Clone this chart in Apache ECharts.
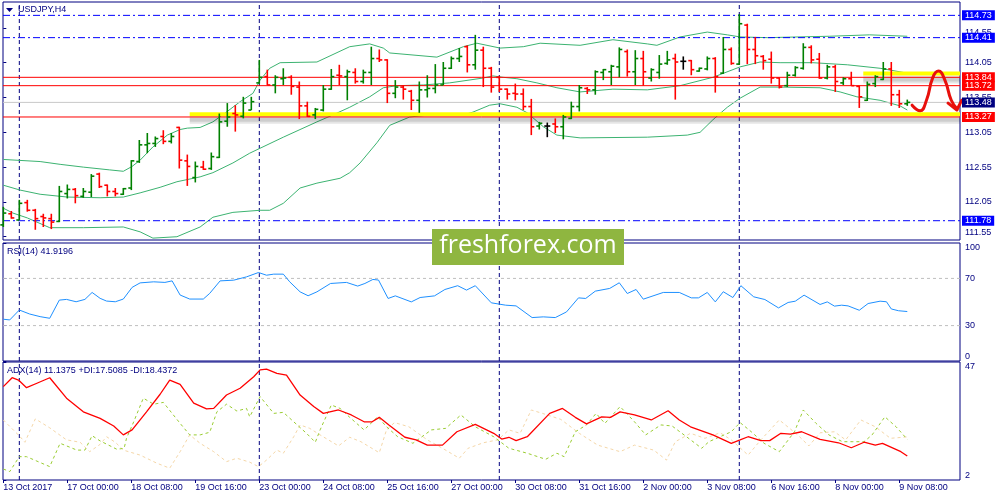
<!DOCTYPE html>
<html><head><meta charset="utf-8">
<script src="https://cdn.jsdelivr.net/npm/echarts@6/dist/echarts.min.js"></script>
<style>html,body{margin:0;padding:0;background:#fff}#c{width:1000px;height:500px}</style>
</head><body><div id="c"></div>
<script>
// ---- OHLC (H4 bars, index 0 = 13 Oct 2017 16:00) ----
const openP  = [111.72,111.88,111.79,112.04,111.93,111.84,111.81,111.77,112.17,112.23,112.13,112.19,112.45,112.29,112.20,112.16,112.25,112.63,112.87,112.89,112.99,112.92,113.12,112.64,112.40,112.55,112.53,112.69,113.21,113.32,113.28,113.37,113.76,113.85,113.73,113.82,113.84,113.70,113.43,113.30,113.37,113.67,113.87,113.85,113.91,113.78,113.91,114.11,114.09,113.61,113.70,113.64,113.51,113.66,113.68,113.73,113.97,114.11,114.28,114.02,114.23,113.97,113.84,113.67,113.61,113.60,113.42,113.14,113.14,113.17,113.13,113.25,113.42,113.68,113.66,113.91,113.92,113.99,114.21,113.92,114.11,113.83,113.91,114.04,114.11,114.07,114.08,113.93,113.96,114.11,113.90,114.24,114.03,114.59,114.24,114.14,114.10,113.83,113.72,113.87,113.97,114.27,114.10,113.83,113.99,113.76,113.82,113.71,113.51,113.75,113.81,113.96,113.59,113.46];
const highP  = [111.98,111.92,112.08,112.08,111.95,111.88,111.88,112.28,112.30,112.25,112.25,112.45,112.47,112.30,112.25,112.25,112.65,112.94,113.04,112.99,113.08,113.04,113.13,112.73,112.63,112.64,112.76,113.32,113.47,113.44,113.56,113.56,114.09,113.95,113.87,113.97,113.87,113.78,113.49,113.40,113.73,113.96,114.02,113.95,113.97,113.95,114.28,114.24,114.10,113.80,113.73,113.66,113.78,113.87,114.03,114.06,114.14,114.26,114.30,114.45,114.28,113.99,113.86,113.68,113.75,113.68,113.53,113.20,113.19,113.25,113.30,113.49,113.73,113.70,113.94,113.96,114.02,114.27,114.24,114.23,114.22,113.97,114.16,114.22,114.18,114.14,114.09,113.98,114.14,114.13,114.42,114.27,114.75,114.61,114.42,114.16,114.21,113.84,113.92,114.00,114.33,114.30,114.19,114.02,114.02,113.84,113.92,113.72,113.78,113.87,114.06,114.06,113.66,113.52];
const lowP   = [111.69,111.81,111.79,111.91,111.65,111.69,111.66,111.76,112.10,112.03,112.11,112.12,112.25,112.13,112.13,112.15,112.22,112.61,112.75,112.84,112.88,112.89,112.53,112.28,112.33,112.51,112.51,112.68,113.13,113.06,113.25,113.37,113.75,113.73,113.61,113.73,113.59,113.24,113.27,113.24,113.35,113.66,113.73,113.51,113.75,113.75,113.73,114.06,113.47,113.54,113.52,113.37,113.33,113.55,113.61,113.73,113.96,114.06,113.91,113.95,113.70,113.62,113.63,113.52,113.51,113.37,113.01,113.09,112.98,113.04,112.95,113.24,113.35,113.60,113.59,113.80,113.73,113.84,113.85,113.73,113.72,113.78,113.82,114.02,113.52,113.95,113.87,113.92,113.94,113.62,113.89,114.02,114.02,114.03,114.03,113.95,113.75,113.68,113.70,113.85,113.95,114.04,113.82,113.81,113.63,113.73,113.72,113.40,113.50,113.70,113.80,113.43,113.40,113.43];
const closeP = [111.89,111.82,112.03,111.93,111.81,111.82,111.76,112.20,112.23,112.14,112.20,112.42,112.27,112.20,112.17,112.24,112.64,112.87,112.89,112.96,112.92,112.99,112.65,112.56,112.56,112.52,112.70,113.20,113.27,113.30,113.47,113.49,113.84,113.73,113.84,113.83,113.71,113.43,113.28,113.38,113.67,113.85,113.86,113.92,113.78,113.91,114.11,114.09,113.61,113.70,113.67,113.51,113.66,113.68,113.73,113.97,114.11,114.14,114.02,114.23,113.97,113.70,113.67,113.60,113.60,113.42,113.13,113.18,113.14,113.13,113.27,113.42,113.69,113.66,113.92,113.95,114.00,114.24,113.92,114.11,113.92,113.95,114.03,114.09,114.06,114.07,113.95,113.97,114.11,113.85,114.24,114.04,114.61,114.24,114.15,114.08,113.83,113.70,113.87,113.98,114.27,114.09,113.83,113.99,113.78,113.82,113.72,113.56,113.74,113.85,113.96,113.59,113.46,113.48];

// ---- Bollinger bands [barIndex, price] ----
const bbUpper = [[0,112.66],[4.6,112.63],[7.1,112.59],[10,112.55],[13.3,112.51],[15,112.49],[16.1,112.56],[17.1,112.65],[18.7,112.84],[20.5,113.01],[22.1,113.09],[23,113.11],[24.6,113.12],[26.2,113.2],[28,113.35],[29.6,113.49],[31.2,113.61],[32.1,113.8],[33.3,113.97],[34.6,114.05],[39.2,114.06],[43.3,114.28],[45.8,114.32],[47.5,114.26],[48.3,114.19],[54.2,114.13],[57.5,114.28],[59.2,114.33],[62.1,114.26],[65,114.28],[67.1,114.33],[72.1,114.3],[76.2,114.38],[80.5,114.32],[81.7,114.3],[84.6,114.42],[88,114.49],[90.5,114.45],[92.1,114.42],[95.5,114.41],[103.3,114.43],[108.3,114.45],[113,114.43]];
const bbMiddle = [[0,112.29],[2.1,112.22],[4.6,112.16],[8,112.12],[12.1,112.11],[15,112.12],[17.1,112.18],[19.6,112.26],[21.7,112.34],[24.6,112.41],[26.2,112.47],[28.7,112.61],[30.8,112.75],[35,112.98],[39.2,113.2],[41.2,113.3],[43.3,113.41],[45.8,113.56],[47.5,113.69],[49.2,113.72],[52.5,113.73],[55.8,113.76],[60,113.83],[61.2,113.86],[62.5,113.84],[64.2,113.82],[66.7,113.76],[69.2,113.69],[72.1,113.63],[76.2,113.67],[80.5,113.66],[84.6,113.72],[88.7,113.84],[92.1,113.99],[94.6,114.06],[97.1,114.05],[101.2,114.05],[105.5,114.02],[109.6,113.97],[113,113.9]];
const bbLower = [[0,111.96],[1.2,111.89],[3,111.82],[5.8,111.68],[10,111.68],[15,111.69],[17.1,111.62],[18.7,111.53],[21.7,111.55],[24.6,111.69],[26.2,111.83],[28.7,111.9],[32.1,111.93],[33.3,111.93],[35,112.03],[37.1,112.25],[39.2,112.32],[42.1,112.39],[43.3,112.47],[44.6,112.61],[46.7,112.9],[48.3,113.15],[50.8,113.27],[54.2,113.31],[57.5,113.3],[58.7,113.34],[60.8,113.44],[62.1,113.46],[64.2,113.41],[65.5,113.33],[67.5,113.13],[69.2,113.01],[72.1,112.97],[80.5,112.98],[85.5,113.01],[87.1,113.05],[88.7,113.23],[90.5,113.41],[92.1,113.54],[94.6,113.7],[97.1,113.7],[102.1,113.69],[104.6,113.63],[106.7,113.56],[109.6,113.51],[112.1,113.43],[113,113.37]];

// ---- RSI(14) ----
const rsi = [[0,35.4],[0.8,34.8],[2,43.2],[3.3,39.8],[4.6,37.6],[5.8,36.2],[7,51.6],[7.9,52.2],[9.1,50.2],[10.2,52.2],[11.1,58.1],[12.1,53.1],[12.9,50.8],[14,50.2],[15,52.5],[16.1,62.4],[17.1,66.2],[18.8,67.1],[20.2,66.6],[21.1,67.9],[22.1,55.9],[23.3,52.5],[25,52.5],[25.8,57.3],[27.1,67.9],[28.8,68.5],[30.4,71.3],[31.9,75],[32.9,72.7],[33.8,73.6],[35,73.6],[35.8,67.1],[37.1,58.6],[38.1,55.3],[39.2,58.6],[40.9,65.7],[42.9,66.6],[44.3,63.5],[45.2,65.7],[46.2,69.1],[46.9,68.6],[48.1,53],[49,55.2],[51,50.1],[52.1,53.8],[53.9,55.2],[55.2,60.6],[56.8,63.8],[57.9,60.1],[59,63.8],[61,49.3],[62.8,47.3],[64.1,46.7],[66.1,36.8],[67.5,37.4],[69,36.8],[70.4,41.6],[71.9,53.5],[72.8,53],[74,59.2],[75.8,61.5],[77,66.3],[78,57.2],[79.1,60.6],[80,52.4],[82.5,58.1],[84.5,58.1],[86,53.5],[86.9,53.5],[88,58.1],[89,50.1],[90,58.7],[91.2,53.8],[92.2,63.8],[93.8,54.4],[95.2,52.1],[96.9,45],[98.1,49.6],[99,50.7],[100.1,55.8],[102.1,47.9],[103,50.1],[103.9,46.5],[104.8,47.3],[105.6,46.7],[107,43],[108.1,48.7],[109.6,50.7],[110.4,50.2],[111,44.1],[111.9,42.6],[113,41.92]];
const rsiLevels = [30, 70];

// ---- ADX(14), +DI, -DI ----
const adx = [[0,37.6],[1.1,41],[1.9,40.1],[2.9,37.2],[4.2,38.9],[5.8,41],[7.9,33.2],[10,28],[12.1,25.5],[13.8,22.6],[15,19.2],[16.1,21.1],[17.9,28],[19.6,34.7],[20.8,40.1],[22.1,38.5],[23.8,31.3],[25.4,29.1],[26.3,29.3],[27.9,34.4],[29.6,37],[31.3,41.4],[32.1,44],[32.9,44.3],[34.2,42.7],[35.4,42],[37.1,34.4],[38.8,30],[40,27.4],[41.9,28.7],[43.5,26.8],[45.1,24.2],[46.1,24.2],[47,25.9],[48.2,23],[50.2,18.3],[51.6,17.3],[53,15.3],[54.9,15.3],[56.7,20.4],[59,23.2],[61.3,19.8],[62.3,17.6],[63.2,18.3],[64.1,17],[65.5,18.5],[68.3,27.4],[69.9,29.3],[71.5,25.9],[72.9,23.4],[74.8,26.1],[75.9,25.9],[77.1,28],[78.9,26.8],[81,24.9],[83.1,28.4],[84.5,24.9],[85.9,22.3],[88.7,19.2],[91,16],[92.1,17.3],[93.1,18.5],[94.7,17],[95.8,17],[97.2,19.8],[98.4,19.5],[99.8,20.4],[102.1,17.5],[104.4,16.2],[106,14.3],[107.6,16.4],[109,15.3],[109.9,16],[112.2,12.8],[113,11.14]];
const plusDI = [[0,6.2],[0.8,5.2],[2,10.9],[2.9,10.9],[4.2,9.2],[5.8,7.1],[7.1,16],[9.2,13.4],[10.2,13.4],[11.1,18.9],[12.1,16.9],[12.9,15.7],[14.2,13.7],[15.1,14.1],[15.4,17.9],[16.3,24.2],[17.5,33.2],[18.8,30.9],[20,31.6],[22.1,23.6],[23.3,19.2],[24.6,19.2],[25.8,20.2],[26.7,28],[27.9,30.9],[29.2,28.3],[30.4,29.3],[30.8,26.1],[32.1,33.8],[33.8,27.4],[35,27.8],[36.3,24.2],[37.9,19.8],[39,16.4],[39.6,21.1],[41,30.6],[42.1,29.3],[43.3,25.9],[45.1,21.1],[46.8,26.1],[47.9,22.3],[49.3,18.5],[51.2,16],[53.5,21.1],[55.3,21.7],[57.2,26.8],[59,22.3],[61.3,18.5],[63.2,14.1],[65.5,12.2],[67.8,9.9],[69.2,12.2],[70.1,10.9],[71.5,20.4],[72.9,23],[74.1,27.4],[75.2,23.6],[77.1,30],[78.9,24.2],[80.3,19.2],[82.2,23],[83.6,22.6],[85.4,18.5],[87.3,14.1],[88.2,16.6],[89.6,18.5],[91,20.4],[92.1,23.9],[93.5,20.4],[95.1,16],[97,12.8],[98.9,20.4],[100,28.7],[101.6,23.6],[103.2,19.2],[104.9,16.6],[106.2,16.6],[107.6,16.6],[108.6,19.2],[110.2,26.1],[111.6,22.3],[113,17.51]];
const minusDI = [[0,24.9],[2.1,18.5],[2.7,16.4],[4,25.3],[5.8,21.9],[7.9,17.3],[9.6,16.4],[10.8,12.8],[12.1,15.6],[12.9,18.5],[14,16.4],[15,13.4],[17.1,11.5],[19.2,8.4],[20.8,6.5],[22.1,12.8],[23.3,19.2],[24.6,16],[26.3,12.8],[27.9,9],[29.2,10.3],[30.8,8.8],[31.9,7.1],[32.9,9.6],[34.2,13.4],[35,12.2],[36.3,18.5],[37.1,23],[38.3,21.7],[39.6,19.2],[41.9,15],[43.3,18.3],[44.7,16.6],[47,12.4],[47.9,21.1],[48.9,23.9],[50.7,22.3],[53,17.3],[54.9,14.1],[57,10.3],[58.1,14.1],[60,16.2],[61.8,17.3],[63.2,21.1],[64.6,19.8],[66,28.7],[67.4,27.4],[69.7,25.1],[72,19.8],[74.3,15.3],[77.1,12.8],[78.9,15.3],[81.3,13.4],[82.9,9.6],[84,16.6],[85.9,19.8],[87.7,17.9],[89.6,20],[91,17.3],[93.1,11.5],[94.7,17.3],[97,24.9],[99.3,19.2],[100.7,15],[102.1,20],[103.9,20.4],[105.3,17.3],[107.2,24.9],[109,22.3],[110.9,17.9],[113,18.44]];

// ---- axes / levels ----
const tickIdx = [0,8,16,24,32,40,48,56,64,72,80,88,96,104,112];
const tickLabels = ["13 Oct 2017","17 Oct 00:00","18 Oct 08:00","19 Oct 16:00","23 Oct 00:00","24 Oct 08:00","25 Oct 16:00","27 Oct 00:00","30 Oct 08:00","31 Oct 16:00","2 Nov 00:00","3 Nov 08:00","6 Nov 16:00","8 Nov 00:00","9 Nov 08:00"];
const weekSeparators = [2,32,62,92];
const priceTicks = [111.55,112.05,112.55,113.05,113.55,114.05,114.55];
const blueLevels = [114.73,114.41,111.78];
const redLevels = [113.84,113.72,113.27];
const bidPrice = 113.48;
// yellow zones: [start bar, price, shadow price]
const yellowZones = [[23.3,113.31,113.23],[107.5,113.895,113.81]];
const arrowPath = [[113.6,113.44],[114.6,113.36],[115.4,113.51],[116.2,113.84],[116.9,113.93],[117.7,113.80],[118.5,113.51],[119.2,113.39]];
const arrowHead = [[118.1,113.47],[119.2,113.37],[119.8,113.51]];

const NAVY = '#000080';
const FONT = 'Liberation Sans';
const X_MIN = -0.04, X_MAX = 119.59;
const Y0 = [111.503, 114.922], Y1 = [0, 100], Y2 = [2, 47];

const chart = echarts.init(document.getElementById('c'));

function xAx(g, labels) {
  return {type:'value', gridIndex:g, min:X_MIN, max:X_MAX, splitLine:{show:false}, axisLine:{show:false},
    axisTick: labels ? {show:true, customValues:tickIdx, length:3, lineStyle:{color:NAVY}} : {show:false},
    axisLabel: labels ? {show:true, customValues:tickIdx, formatter:v=>tickLabels[tickIdx.indexOf(Math.round(v))], align:'left', margin:3, fontSize:9, color:NAVY, fontFamily:FONT} : {show:false}};
}
function yAx(g, rng, vals, fmt) {
  return {type:'value', gridIndex:g, position:'right', min:rng[0], max:rng[1], scale:true, splitLine:{show:false}, axisLine:{show:false},
    axisTick:{show:true, customValues:vals, length:3, lineStyle:{color:NAVY}},
    axisLabel:{show:true, customValues:vals, formatter:fmt, margin:5, fontSize:9, color:NAVY, fontFamily:FONT,
      verticalAlignMinLabel:'bottom', verticalAlignMaxLabel:'top'}};
}
const lineS = (name, data, xi, color, extra) => Object.assign({name, type:'line', xAxisIndex:xi, yAxisIndex:xi, data, showSymbol:false, symbol:'none', silent:true, animation:false,
  lineStyle:{color, width:1}, itemStyle:{color}}, extra||{});

function levelS(price, color, boxColor, dash, z) {
  return lineS('lvl'+price, [[X_MIN,price],[X_MAX,price]], 0, color, {z:z||3,
    lineStyle:{color, width:1, type:dash},
    endLabel:{show:true, distance:2, formatter:()=>price.toFixed(2), color:'#fff', backgroundColor:boxColor,
      fontSize:9, fontFamily:FONT, padding:[1,3,0,3], lineHeight:9}});
}
function sepS(v, g, rng) {
  return lineS('sep'+g+'_'+v, [[v,rng[0]],[v,rng[1]]], g, NAVY, {z:1, lineStyle:{color:NAVY, width:1, type:[4,3]}});
}
const ohlc = openP.map((o,i)=>[i,o,highP[i],lowP[i],closeP[i]]);

const series = [];
[[0,Y0],[1,Y1],[2,Y2]].forEach(([g,r])=>weekSeparators.forEach(v=>series.push(sepS(v,g,r))));
series.push(lineS('BB upper', bbUpper, 0, '#3CB371', {z:2}));
series.push(lineS('BB lower', bbLower, 0, '#3CB371', {z:2}));
series.push(lineS('BB middle', bbMiddle, 0, '#3CB371', {z:2}));
series.push(levelS(bidPrice, '#C8C8C8', '#000080', 'solid', 2));
yellowZones.forEach((zn,k)=>{
  series.push(lineS('zoneShadowA'+k, [[zn[0],zn[2]],[X_MAX,zn[2]]], 0, 'rgba(0,0,0,0.10)', {z:2, lineStyle:{color:'rgba(0,0,0,0.10)', width:8}}));
  series.push(lineS('zoneShadowB'+k, [[zn[0],zn[2]],[X_MAX,zn[2]]], 0, 'rgba(0,0,0,0.10)', {z:2, lineStyle:{color:'rgba(0,0,0,0.10)', width:4}}));
  series.push(lineS('zone'+k, [[zn[0],zn[1]],[X_MAX,zn[1]]], 0, '#FFFF00', {z:3, lineStyle:{color:'#FFFF00', width:4}}));
});
blueLevels.forEach(p=>series.push(levelS(p, '#0000FF', '#0000FF', [7,3,2,3], 3)));
redLevels.forEach(p=>series.push(levelS(p, '#FF0000', '#FF0000', 'solid', 3)));
series.push({name:'USDJPY', type:'custom', xAxisIndex:0, yAxisIndex:0, data:ohlc, z:4, silent:true, animation:false,
  encode:{x:0, y:[1,2,3,4]},
  renderItem:(params, api)=>{
    const i=api.value(0), o=api.value(1), h=api.value(2), l=api.value(3), c=api.value(4);
    const pH=api.coord([i,h]), pL=api.coord([i,l]), pO=api.coord([i,o]), pC=api.coord([i,c]);
    const x=pH[0];
    const col = c>o ? '#008000' : (c<o ? '#FF0000' : '#000000');
    const st={stroke:col, lineWidth:1.6};
    return {type:'group', children:[
      {type:'line', shape:{x1:x,y1:pH[1],x2:x,y2:pL[1]}, style:st},
      {type:'line', shape:{x1:x-3,y1:pO[1],x2:x,y2:pO[1]}, style:st},
      {type:'line', shape:{x1:x,y1:pC[1],x2:x+3,y2:pC[1]}, style:st}
    ]};
  }});
series.push(lineS('arrow', arrowPath, 0, '#E8100C', {z:6, smooth:0.5, clip:false, lineStyle:{color:'#E8100C', width:3, cap:'round', join:'round'}}));
series.push(lineS('arrowHead', arrowHead, 0, '#E8100C', {z:6, clip:false, lineStyle:{color:'#E8100C', width:3, cap:'round', join:'round'}}));
rsiLevels.forEach(v=>series.push(lineS('rsiLvl'+v, [[X_MIN,v],[X_MAX,v]], 1, '#BEBEBE', {z:1, lineStyle:{color:'#BEBEBE', width:1, type:[3,3]}})));
series.push(lineS('RSI', rsi, 1, '#1E90FF', {z:3}));
series.push(lineS('-DI', minusDI, 2, '#F5D7A8', {z:2, lineStyle:{color:'#F5D7A8', width:1, type:[3,3]}}));
series.push(lineS('+DI', plusDI, 2, '#9ACD32', {z:3, lineStyle:{color:'#9ACD32', width:1, type:[3,3]}}));
series.push(lineS('ADX', adx, 2, '#FF0000', {z:4, lineStyle:{color:'#FF0000', width:1.3}}));

const option = {
  animation:false,
  backgroundColor:'#fff',
  grid:[
    {left:3, right:40, top:2, height:238, show:true, borderColor:NAVY, borderWidth:1, backgroundColor:'#fff'},
    {left:3, right:40, top:243, height:118, show:true, borderColor:NAVY, borderWidth:1},
    {left:3, right:40, top:362, height:118, show:true, borderColor:NAVY, borderWidth:1}
  ],
  xAxis:[xAx(0,false), xAx(1,false), xAx(2,true)],
  yAxis:[
    yAx(0,Y0,priceTicks,v=>v.toFixed(2)),
    yAx(1,Y1,[0,30,70,100],v=>String(Math.round(v))),
    yAx(2,Y2,[2,47],v=>String(Math.round(v)))
  ],
  series,
  graphic:[
    {type:'polygon', z:50, shape:{points:[[6,8],[13,8],[9.5,12]]}, style:{fill:NAVY}},
    {type:'text', z:50, x:18, y:10, style:{text:'USDJPY,H4', fill:NAVY, font:'9px "Liberation Sans"', verticalAlign:'middle'}},
    {type:'text', z:50, x:7, y:252, style:{text:'RSI(14) 41.9196', fill:NAVY, font:'9px "Liberation Sans"', verticalAlign:'middle'}},
    {type:'text', z:50, x:7, y:371, style:{text:'ADX(14) 11.1375 +DI:17.5085 -DI:18.4372', fill:NAVY, font:'9px "Liberation Sans"', verticalAlign:'middle'}},
    {type:'rect', z:60, shape:{x:432, y:229, width:192, height:36}, style:{fill:'#8FB640'}},
    {type:'text', z:61, x:528, y:246, style:{text:'freshforex.com', fill:'#ffffff', font:'25px "Open Sans"', align:'center', verticalAlign:'middle'}}
  ]
};
chart.setOption(option);
</script>
</body></html>
